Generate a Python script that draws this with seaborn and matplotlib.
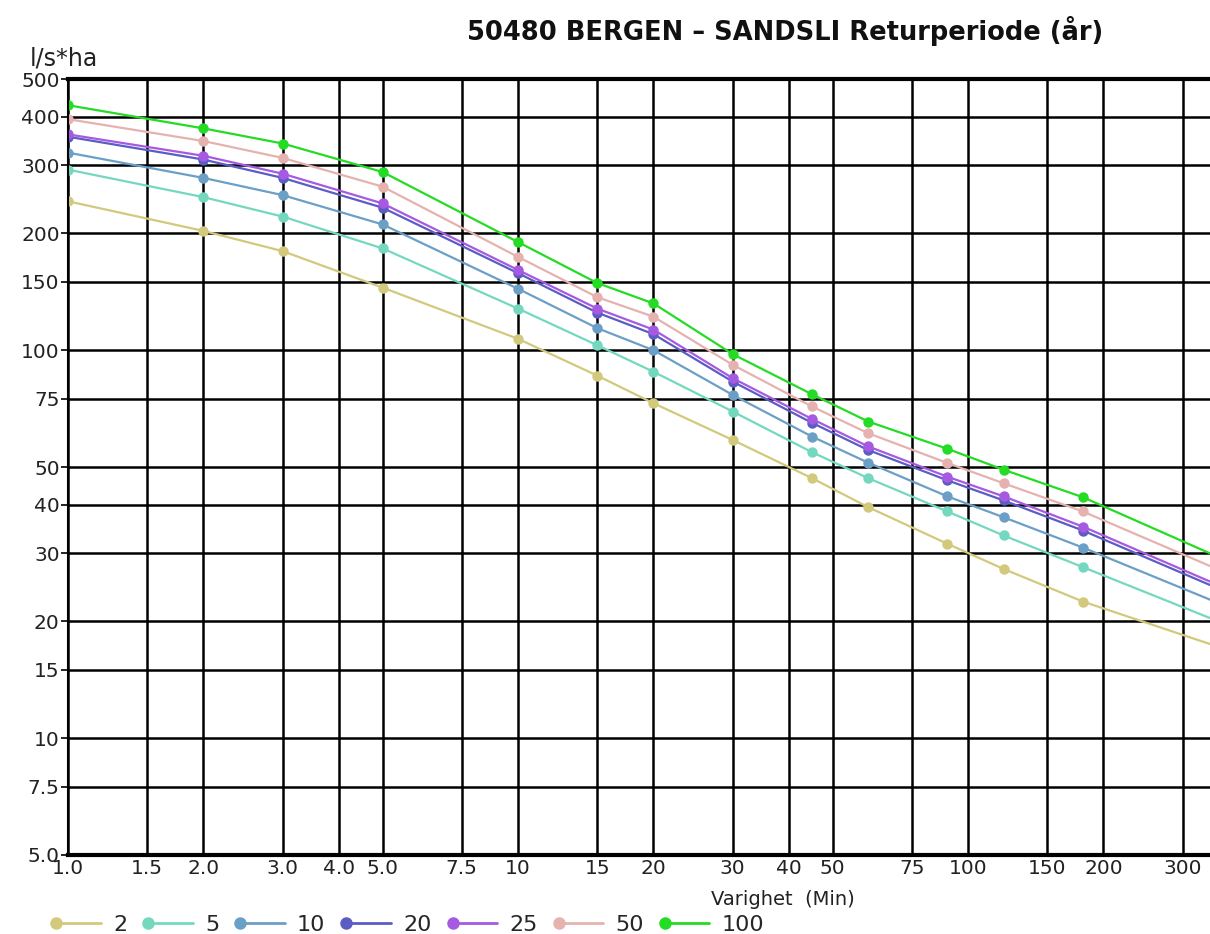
import numpy as np
import pandas as pd
import matplotlib
matplotlib.use("Agg")
import matplotlib.pyplot as plt
from matplotlib.legend_handler import HandlerLine2D
from matplotlib.ticker import FixedLocator, FixedFormatter, NullLocator
import seaborn as sns

# Durations (minutes) and intensities (l/s*ha) per return period
durations = [1, 2, 3, 5, 10, 15, 20, 30, 45, 60, 90, 120, 180, 360]
periods = ["2", "5", "10", "20", "25", "50", "100"]
t2 = [242, 203, 180, 145, 107, 86, 73, 58.7, 46.8, 39.4, 31.7, 27.3, 22.5, 17.2]
t5 = [292, 248, 221, 183, 128, 103, 88, 69.5, 54.6, 46.8, 38.4, 33.3, 27.6, 20.0]
t10 = [323, 278, 251, 211, 144, 114, 100, 76.7, 59.9, 51.3, 42.0, 37.1, 31.0, 22.3]
t20 = [355, 310, 278, 233, 158, 125, 110, 83.0, 65.0, 55.3, 46.2, 41.0, 34.3, 24.3]
t25 = [360, 317, 285, 239, 161, 128, 113, 84.7, 66.5, 56.5, 47.2, 42.0, 35.1, 24.8]
t50 = [394, 346, 313, 264, 174, 137, 122, 91.7, 71.6, 61.1, 51.2, 45.4, 38.4, 27.2]
t100 = [428, 373, 341, 288, 190, 149, 132, 97.7, 77.0, 65.5, 55.7, 49.2, 41.8, 29.3]
colors = ["#d2c97c", "#74d8bf", "#6c9fc6", "#5b5cc4", "#a65ae2", "#e6b2b0", "#24dc24"]

x_ticks = [1, 1.5, 2, 3, 4, 5, 7.5, 10, 15, 20, 30, 40, 50, 75, 100, 150, 200, 300]
x_labels = ["1.0", "1.5", "2.0", "3.0", "4.0", "5.0", "7.5", "10", "15", "20",
            "30", "40", "50", "75", "100", "150", "200", "300"]
y_ticks = [5, 7.5, 10, 15, 20, 30, 40, 50, 75, 100, 150, 200, 300, 400, 500]
y_labels = ["5.0", "7.5", "10", "15", "20", "30", "40", "50", "75", "100",
            "150", "200", "300", "400", "500"]

series = [t2, t5, t10, t20, t25, t50, t100]
rows = []
for p, vals in zip(periods, series):
    for d, v in zip(durations, vals):
        rows.append({"Varighet": d, "Intensitet": v, "Periode": p})
df = pd.DataFrame(rows)

sns.set_style("white")
plt.rcParams["font.family"] = ["DejaVu Sans"]

fig = plt.figure(figsize=(12.1, 9.34), dpi=100)
ax = fig.add_axes([0.0562, 0.0846, 0.9438, 0.8308])

sns.lineplot(data=df, x="Varighet", y="Intensitet", hue="Periode",
             hue_order=periods, palette=colors, marker="o", markersize=7.5,
             markeredgewidth=0, linewidth=1.6, ax=ax, legend=True)

ax.set_xscale("log")
ax.set_yscale("log")
ax.set_xlim(1, 345)
ax.set_ylim(5, 500)

ax.xaxis.set_major_locator(FixedLocator(x_ticks))
ax.xaxis.set_major_formatter(FixedFormatter(x_labels))
ax.xaxis.set_minor_locator(NullLocator())
ax.yaxis.set_major_locator(FixedLocator(y_ticks))
ax.yaxis.set_major_formatter(FixedFormatter(y_labels))
ax.yaxis.set_minor_locator(NullLocator())

ax.grid(True, which="major", color="black", linewidth=1.8)
ax.set_axisbelow(True)
ax.tick_params(axis="y", length=5, width=1.2, color="black", labelsize=14.5,
               labelcolor="#222222", pad=1, left=True)
ax.tick_params(axis="x", length=0, labelsize=14.5, labelcolor="#222222", pad=3)

for side in ["top", "bottom"]:
    ax.spines[side].set_linewidth(3)
    ax.spines[side].set_color("black")
ax.spines["left"].set_linewidth(1.5)
ax.spines["left"].set_color("black")
ax.spines["right"].set_visible(False)

ax.set_xlabel("")
ax.set_ylabel("")
fig.text(0.647, 0.037, "Varighet  (Min)", fontsize=14, color="#222222",
         ha="center", va="center")
fig.text(0.025, 0.925, "l/s*ha", fontsize=17, color="#222222", ha="left", va="bottom")
fig.text(0.649, 0.967, "50480 BERGEN \u2013 SANDSLI Returperiode (\u00e5r)",
         fontsize=18.5, fontweight="bold", color="#111111", ha="center", va="center")


class LeftMarker(HandlerLine2D):
    def create_artists(self, legend, orig_handle, xdescent, ydescent,
                       width, height, fontsize, trans):
        artists = super().create_artists(legend, orig_handle, xdescent, ydescent,
                                         width, height, fontsize, trans)
        for a in artists:
            a.set_markevery([0])
        return artists


handles, labels = ax.get_legend_handles_labels()
for h in handles:
    h.set_markersize(9)
    h.set_linewidth(2)
ax.legend_.remove()
fig.legend(handles, labels, loc="lower left", bbox_to_anchor=(0.03, -0.022),
           ncol=7, frameon=False, fontsize=16, handlelength=2.0,
           handletextpad=0.55, columnspacing=0.95,
           handler_map={h: LeftMarker() for h in handles})

fig.savefig("out.png", dpi=100)
